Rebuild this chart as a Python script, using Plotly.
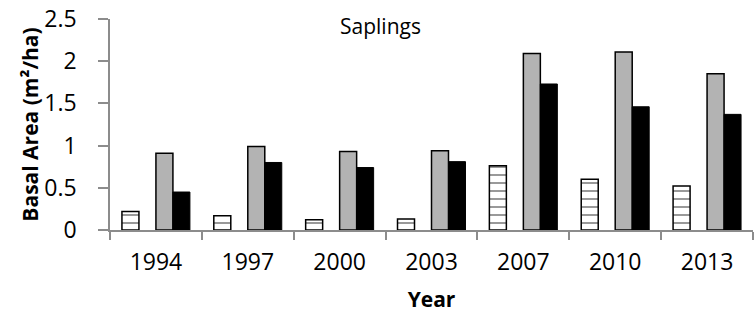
import plotly.graph_objects as go

# Sapling basal area by survey year (m²/ha)
years = ["1994", "1997", "2000", "2003", "2007", "2010", "2013"]
hatched_vals = [0.22, 0.17, 0.12, 0.13, 0.76, 0.60, 0.52]
gray_vals = [0.91, 0.99, 0.93, 0.94, 2.09, 2.11, 1.85]
black_vals = [0.45, 0.80, 0.74, 0.81, 1.73, 1.46, 1.37]

y_ticks = [0, 0.5, 1, 1.5, 2, 2.5]
y_tick_text = ["0", "0.5", "1", "1.5", "2", "2.5"]

FONT = "Open Sans"
BAR_W = 0.185

fig = go.Figure()

# Horizontal-striped bars (leftmost slot in each year)
fig.add_trace(go.Bar(
    x=years, y=hatched_vals, width=BAR_W, offset=-0.37,
    marker=dict(color="white",
                line=dict(color="black", width=1.5),
                pattern=dict(shape="-", size=8, solidity=0.25,
                             fgcolor="#333333", bgcolor="white")),
    showlegend=False,
))
# Gray bars
fig.add_trace(go.Bar(
    x=years, y=gray_vals, width=BAR_W, offset=0.0,
    marker=dict(color="#b3b3b3", line=dict(color="black", width=1.5)),
    showlegend=False,
))
# Black bars
fig.add_trace(go.Bar(
    x=years, y=black_vals, width=BAR_W, offset=BAR_W,
    marker=dict(color="black", line=dict(color="black", width=1)),
    showlegend=False,
))

fig.update_layout(
    width=754, height=321,
    margin=dict(l=110, r=1, t=19, b=91),
    paper_bgcolor="white", plot_bgcolor="white",
    font=dict(family=FONT, size=23, color="black"),
    bargap=0.26,
    annotations=[dict(
        text="Saplings", x=0.42, y=1.0, xref="paper", yref="paper",
        xanchor="center", yanchor="top", yshift=9, showarrow=False,
        font=dict(family=FONT, size=21, color="black"),
    )],
)

fig.update_xaxes(
    type="category", tickson="boundaries",
    showline=True, linecolor="#8c8c8c", linewidth=1.5,
    ticks="outside", ticklen=8, tickcolor="#8c8c8c", tickwidth=1.5,
    tickfont=dict(family=FONT, size=23), ticklabelstandoff=11,
    showgrid=False, zeroline=False,
    title=dict(text="<b>Year</b>", font=dict(family=FONT, size=21), standoff=16),
)

fig.update_yaxes(
    range=[0, 2.5], tickvals=y_ticks, ticktext=y_tick_text,
    showline=True, linecolor="#8c8c8c", linewidth=1.5,
    ticks="outside", ticklen=10, tickcolor="#8c8c8c", tickwidth=1.5,
    tickfont=dict(family=FONT, size=23), ticklabelstandoff=17,
    showgrid=False, zeroline=False,
    title=dict(text="<b>Basal Area (m²/ha)</b>", font=dict(family=FONT, size=21), standoff=0),
)

fig.write_html("out.html")
